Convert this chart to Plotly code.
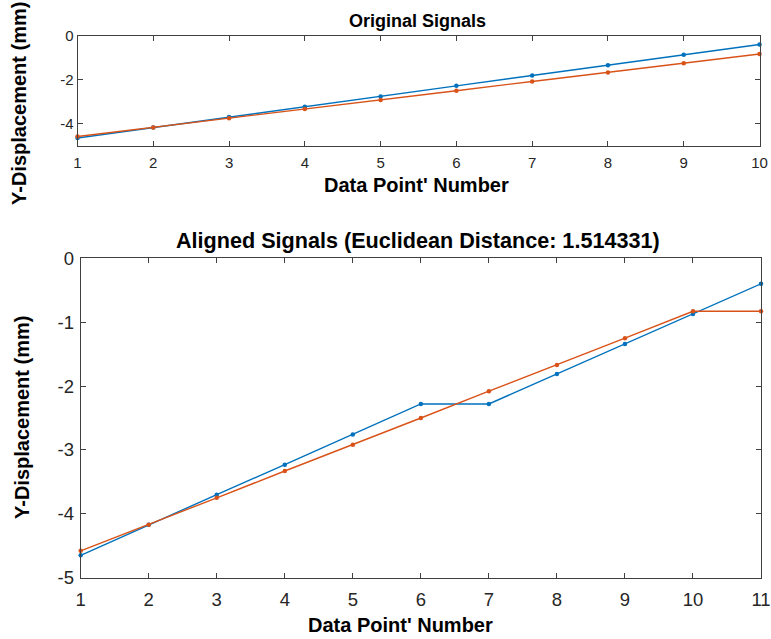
import plotly.graph_objects as go

# Raw signals (Y displacement in mm, one value per data point)
orig_x = [1, 2, 3, 4, 5, 6, 7, 8, 9, 10]
signal_a = [-4.65, -4.17, -3.70, -3.23, -2.76, -2.28, -1.81, -1.34, -0.87, -0.40]
signal_b = [-4.58, -4.17, -3.75, -3.33, -2.92, -2.50, -2.08, -1.67, -1.25, -0.83]

# Signals after alignment (warped onto a common 11-point index)
aligned_x = [1, 2, 3, 4, 5, 6, 7, 8, 9, 10, 11]
aligned_a = [-4.65, -4.17, -3.70, -3.23, -2.76, -2.28, -2.28, -1.81, -1.34, -0.87, -0.40]
aligned_b = [-4.58, -4.17, -3.75, -3.33, -2.92, -2.50, -2.08, -1.67, -1.25, -0.83, -0.83]

top_yticks = [0, -2, -4]
bottom_yticks = [0, -1, -2, -3, -4, -5]

title_top = "Original Signals"
title_bottom = "Aligned Signals (Euclidean Distance: 1.514331)"
xlabel = "Data Point' Number"
ylabel = "Y-Displacement (mm)"

BLUE = "#0072BD"
ORANGE = "#D95319"
AXIS = "#404040"
TICKTXT = "#262626"
FONT = "Liberation Sans, Arial, Helvetica, sans-serif"

W, H = 771, 639


def px_x(v):
    return v / W


def px_y(v):
    return 1 - v / H


def hyphen_labels(vals):
    # plain ASCII hyphen for negative numbers
    return [str(v) for v in vals]


fig = go.Figure()

for xs, ys, col, xa, ya in [
    (orig_x, signal_a, BLUE, "x", "y"),
    (orig_x, signal_b, ORANGE, "x", "y"),
    (aligned_x, aligned_a, BLUE, "x2", "y2"),
    (aligned_x, aligned_b, ORANGE, "x2", "y2"),
]:
    fig.add_trace(go.Scatter(
        x=xs, y=ys, mode="lines+markers", xaxis=xa, yaxis=ya,
        line=dict(color=col, width=1.4),
        marker=dict(color=col, size=4.5),
        showlegend=False, cliponaxis=False,
    ))

common = dict(
    showline=True, linecolor=AXIS, linewidth=1, mirror="ticks",
    ticks="inside", ticklen=5, tickcolor=AXIS, tickwidth=1,
    showgrid=False, zeroline=False, automargin=False,
)

fig.update_layout(
    width=W, height=H,
    margin=dict(l=0, r=0, t=0, b=0, pad=0),
    paper_bgcolor="white", plot_bgcolor="white",
    font=dict(family=FONT, color=TICKTXT),
    xaxis=dict(domain=[px_x(77.5), px_x(759.5)], anchor="y",
               range=[1, 10], tickvals=orig_x, ticktext=hyphen_labels(orig_x),
               tickfont=dict(size=15), ticklabelstandoff=3, **common),
    yaxis=dict(domain=[px_y(145.7), px_y(35.7)], anchor="x",
               range=[-5, 0], tickvals=top_yticks, ticktext=hyphen_labels(top_yticks),
               tickfont=dict(size=15), **common),
    xaxis2=dict(domain=[px_x(80.7), px_x(761)], anchor="y2",
                range=[1, 11], tickvals=aligned_x, ticktext=hyphen_labels(aligned_x),
                tickfont=dict(size=18.5), ticklabelstandoff=5, **common),
    yaxis2=dict(domain=[px_y(577.7), px_y(258.3)], anchor="x2",
                range=[-5, 0], tickvals=bottom_yticks, ticktext=hyphen_labels(bottom_yticks),
                tickfont=dict(size=18.5), ticklabelstandoff=2, **common),
)

bold = dict(family=FONT, color="black")
annotations = [
    dict(text=f"<b>{title_top}</b>", x=px_x(418), y=px_y(21), font=dict(size=18, **bold)),
    dict(text=f"<b>{title_bottom}</b>", x=px_x(417.5), y=px_y(240), font=dict(size=21.6, **bold)),
    dict(text=f"<b>{xlabel}</b>", x=px_x(416.5), y=px_y(185), font=dict(size=20, **bold)),
    dict(text=f"<b>{xlabel}</b>", x=px_x(400), y=px_y(625), font=dict(size=20, **bold)),
    dict(text=f"<b>{ylabel}</b>", x=px_x(19), y=px_y(104), textangle=-90, font=dict(size=20, **bold)),
    dict(text=f"<b>{ylabel}</b>", x=px_x(22), y=px_y(418), textangle=-90, font=dict(size=20, **bold)),
]
for a in annotations:
    a.update(xref="paper", yref="paper", showarrow=False,
             xanchor="center", yanchor="middle")
fig.update_layout(annotations=annotations)

fig.write_html("out.html")
